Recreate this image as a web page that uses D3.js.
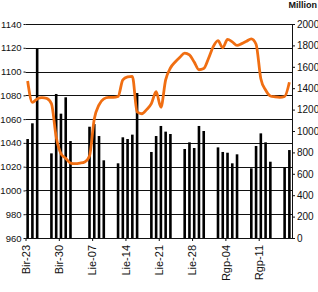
<!DOCTYPE html>
<html>
<head>
<meta charset="utf-8">
<script src="https://cdn.jsdelivr.net/npm/d3@7"></script>
<style>
  body { margin: 0; background: #fff; }
  svg { display: block; font-family: "Liberation Sans", Arial, sans-serif; }
</style>
</head>
<body>
<script>
// trading days with turnover bars (right axis, Million)
const barDates = [
  "2010-06-23","2010-06-24","2010-06-25",
  "2010-06-28","2010-06-29","2010-06-30","2010-07-01","2010-07-02",
  "2010-07-06","2010-07-07","2010-07-08","2010-07-09",
  "2010-07-12","2010-07-13","2010-07-14","2010-07-15","2010-07-16",
  "2010-07-19","2010-07-20","2010-07-21","2010-07-22","2010-07-23",
  "2010-07-26","2010-07-27","2010-07-28","2010-07-29","2010-07-30",
  "2010-08-02","2010-08-03","2010-08-04","2010-08-05","2010-08-06",
  "2010-08-09","2010-08-10","2010-08-11","2010-08-12","2010-08-13",
  "2010-08-16","2010-08-17"
];
const barValues = [
  925, 1072, 1769,
  791, 1346, 1162, 1315, 906,
  1040, 1065, 953, 726,
  698, 941, 925, 966, 1355,
  804, 953, 1047, 994, 972,
  832, 894, 841, 1047, 1000,
  847, 804, 797, 698, 782,
  651, 860, 978, 894, 713,
  660, 822
];

// index line (left axis), one value per calendar day from Jun 23
const lineStart = "2010-06-23";
const lineValues = [
  1092, 1074, 1077, 1078, 1077.5, 1073, 1045, 1031, 1027, 1023,
  1022.5, 1023, 1024, 1029, 1060, 1072, 1077, 1078.3, 1078.3, 1079,
  1093, 1095.5, 1096, 1066, 1064.5, 1068, 1073, 1083, 1070, 1093,
  1103, 1108, 1112, 1115.5, 1114, 1108, 1101.5, 1102.5, 1111, 1121,
  1126, 1120, 1127, 1125, 1122, 1123.5, 1125.5, 1127.5, 1123, 1094,
  1084.5, 1079.5, 1078.7, 1078.3, 1079, 1091
];

const tickDates = ["2010-06-23","2010-06-30","2010-07-07","2010-07-14","2010-07-21","2010-07-28","2010-08-04","2010-08-11"];
const tickLabels = ["Bir-23","Bir-30","Lie-07","Lie-14","Lie-21","Lie-28","Rgp-04","Rgp-11"];

const leftTicks = [960, 980, 1000, 1020, 1040, 1060, 1080, 1100, 1120, 1140];
const rightTicks = [0, 200, 400, 600, 800, 1000, 1200, 1400, 1600, 1800, 2000];

const W = 318, H = 292;
const plot = {left: 25.5, right: 292, top: 24, bottom: 238};
const font = "Liberation Sans, Arial, sans-serif";

const parse = d3.timeParse("%Y-%m-%d");

const x = d3.scaleTime()
  .domain([parse("2010-06-23"), parse("2010-08-18")])
  .range([plot.left, plot.right]);
const dayW = x(parse("2010-06-24")) - x(parse("2010-06-23"));

const yL = d3.scaleLinear().domain([960, 1140]).range([plot.bottom, plot.top]);
const yR = d3.scaleLinear().domain([0, 2000]).range([plot.bottom, plot.top]);

const svg = d3.select("body").append("svg")
  .attr("width", W)
  .attr("height", H);

// gridlines
svg.append("g")
  .selectAll("line")
  .data(leftTicks)
  .enter()
  .append("line")
  .attr("x1", plot.left)
  .attr("x2", plot.right)
  .attr("y1", d => Math.round(yL(d)) + 0.5)
  .attr("y2", d => Math.round(yL(d)) + 0.5)
  .attr("stroke", "#111")
  .attr("stroke-width", 1);

// bars
const bars = barDates.map((d, i) => ({date: parse(d), value: barValues[i]}));
svg.append("g")
  .selectAll("rect")
  .data(bars)
  .enter()
  .append("rect")
  .attr("x", d => x(d.date) + dayW * 0.45 - 1.3)
  .attr("width", 2.6)
  .attr("y", d => yR(d.value))
  .attr("height", d => yR(0) - yR(d.value))
  .attr("fill", "#000");

// line
const start = parse(lineStart);
const lineData = lineValues.map((v, i) => ({date: d3.timeDay.offset(start, i), value: v}));
const lineGen = d3.line()
  .x(d => x(d.date) + dayW * 0.45)
  .y(d => yL(d.value))
  .curve(d3.curveMonotoneX);

svg.append("path")
  .datum(lineData)
  .attr("d", lineGen)
  .attr("fill", "none")
  .attr("stroke", "#f06e12")
  .attr("stroke-width", 2.8)
  .attr("stroke-linejoin", "round");

// left axis
const leftAxis = svg.append("g")
  .attr("transform", "translate(" + plot.left + ",0)")
  .call(d3.axisLeft(yL).tickValues(leftTicks).tickSize(2).tickPadding(2).tickFormat(d3.format("d")));
leftAxis.select(".domain").remove();
leftAxis.selectAll(".tick line").attr("stroke", "#111");
leftAxis.selectAll(".tick text")
  .attr("font-size", 9.5)
  .attr("font-family", font)
  .attr("fill", "#111");

// right axis
const rightAxis = svg.append("g")
  .attr("transform", "translate(" + plot.right + ",0)")
  .call(d3.axisRight(yR).tickValues(rightTicks).tickSize(3).tickPadding(2).tickSizeOuter(0).tickFormat(d3.format("d")));
rightAxis.select(".domain").attr("stroke", "#111");
rightAxis.selectAll(".tick line").attr("stroke", "#111");
rightAxis.selectAll(".tick text")
  .attr("font-size", 10)
  .attr("font-family", font)
  .attr("fill", "#111");

svg.append("text")
  .attr("x", W - 1)
  .attr("y", 8)
  .attr("text-anchor", "end")
  .attr("font-size", 9)
  .attr("font-weight", "bold")
  .attr("font-family", font)
  .attr("fill", "#111")
  .text("Million");

// bottom axis
const bottomAxis = svg.append("g")
  .attr("transform", "translate(0," + plot.bottom + ")")
  .call(d3.axisBottom(x)
    .tickValues(tickDates.map(parse))
    .tickSize(3)
    .tickSizeOuter(0)
    .tickFormat((d, i) => tickLabels[i]));
bottomAxis.select(".domain").attr("stroke", "#111");
bottomAxis.selectAll(".tick line").attr("stroke", "#111");
bottomAxis.selectAll(".tick text")
  .attr("font-size", 11)
  .attr("font-family", font)
  .attr("fill", "#111")
  .attr("text-anchor", "end")
  .attr("transform", "rotate(-90)")
  .attr("x", -7)
  .attr("y", 0)
  .attr("dy", "0.35em");
</script>
</body>
</html>
